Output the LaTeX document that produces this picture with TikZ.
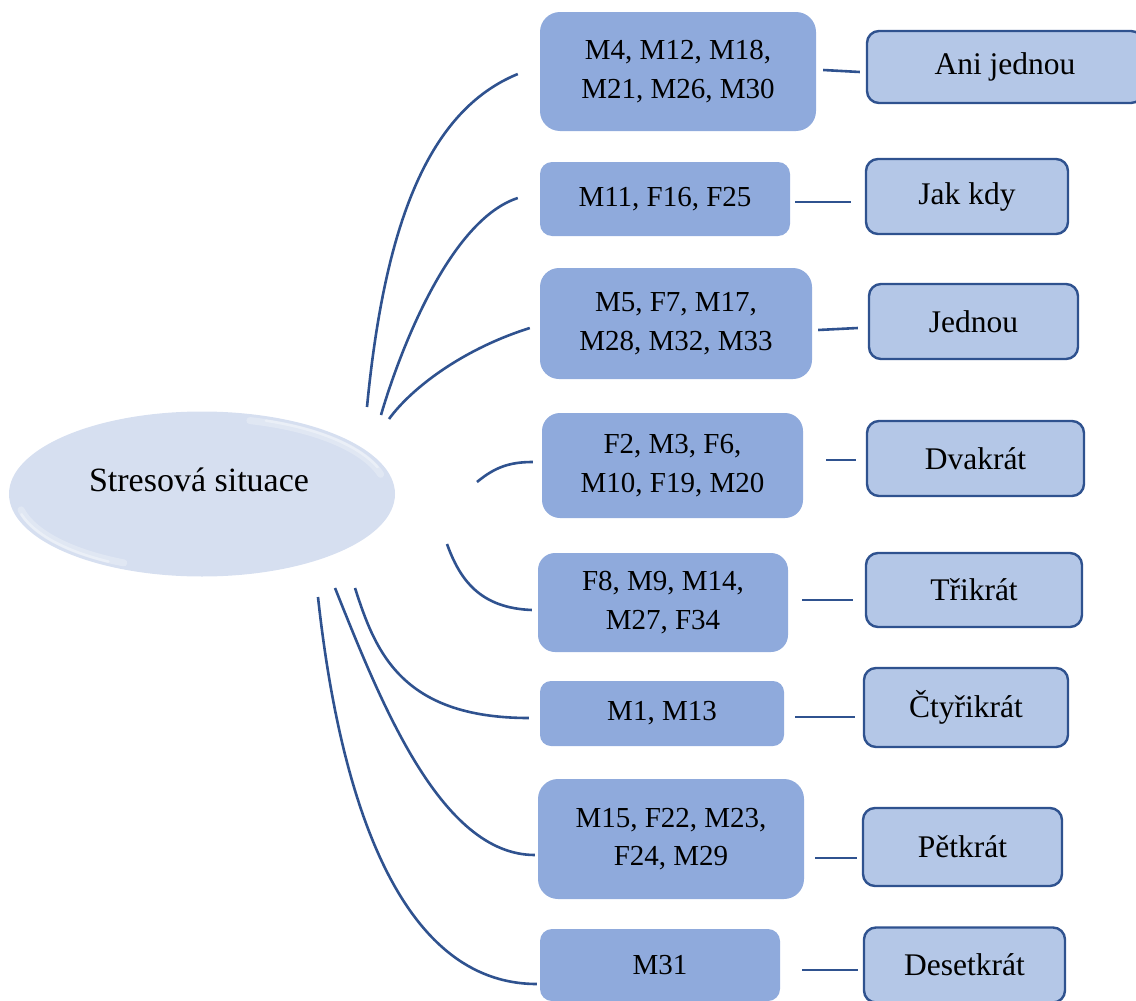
\documentclass[tikz,border=0pt]{standalone}
\usepackage{fontspec}
\setmainfont{Liberation Serif}
\usetikzlibrary{shapes.geometric}
\definecolor{idfill}{HTML}{8FAADC}
\definecolor{catfill}{HTML}{B4C7E7}
\definecolor{edgeblue}{HTML}{2F528F}
\definecolor{rootfill}{HTML}{D6DFF0}
\tikzset{
  rootshape/.style={ellipse, fill=rootfill, inner sep=0pt},
  idbox/.style={rectangle, fill=idfill, inner sep=0pt, align=center,
    font=\fontsize{29}{38.5}\selectfont},
  catbox/.style={rectangle, fill=catfill, draw=edgeblue, line width=2.4pt,
    inner sep=0pt, align=center, font=\fontsize{31.5}{38}\selectfont},
  link/.style={draw=edgeblue, line width=2.6pt},
  glosswide/.style={draw=white, line width=7pt, opacity=0.25, line cap=round},
  glossthin/.style={draw=white, line width=2.5pt, opacity=0.35, line cap=round},
}
\begin{document}
\begin{tikzpicture}[x=1pt,y=-1pt]
\useasboundingbox (0,0) rectangle (1136,1001);
\clip (0,0) rectangle (1136,1001);

% central topic with a soft sheen along its rim (lower left and upper right)
\node[rootshape, minimum width=386, minimum height=165] (root) at (202,494) {};
\draw[glosswide] (root.center) ++(115:185 and 76) arc[start angle=115, end angle=168, x radius=185, y radius=76];
\draw[glossthin] (root.center) ++(120:187 and 78) arc[start angle=120, end angle=165, x radius=187, y radius=78];
\draw[glosswide] (root.center) ++(285:185 and 76) arc[start angle=285, end angle=345, x radius=185, y radius=76];
\draw[glossthin] (root.center) ++(290:187 and 78) arc[start angle=290, end angle=340, x radius=187, y radius=78];
\node[font=\fontsize{34}{40}\selectfont] (rootlabel) at (199,480) {Stresová situace};

% respondent groups
\node[idbox, minimum width=276, minimum height=119, rounded corners=20] (L1) at (678,71.5) {M4, M12, M18,\\M21, M26, M30};
\node[idbox, minimum width=250, minimum height=74, rounded corners=12] (L2) at (665,199) {M11, F16, F25};
\node[idbox, minimum width=272, minimum height=111, rounded corners=19] (L3) at (676,323.5) {M5, F7, M17,\\M28, M32, M33};
\node[idbox, minimum width=261, minimum height=105, rounded corners=18] (L4) at (672.5,465.5) {F2, M3, F6,\\M10, F19, M20};
\node[idbox, minimum width=250, minimum height=99, rounded corners=17] (L5) at (663,602.5) {F8, M9, M14,\\M27, F34};
\node[idbox, minimum width=244, minimum height=65, rounded corners=11] (L6) at (662,713.5) {M1, M13};
\node[idbox, minimum width=266, minimum height=120, rounded corners=20] (L7) at (671,839) {M15, F22, M23,\\F24, M29};
\node[idbox, minimum width=240, minimum height=72, rounded corners=12] (L8) at (660,965) {M31};

% frequency categories
\node[catbox, minimum width=276, minimum height=72, rounded corners=12] (R1) at (1005,67) {Ani jednou};
\node[catbox, minimum width=202, minimum height=75, rounded corners=12] (R2) at (967,196.5) {Jak kdy};
\node[catbox, minimum width=209, minimum height=75, rounded corners=12] (R3) at (973.5,321.5) {Jednou};
\node[catbox, minimum width=217, minimum height=75, rounded corners=12] (R4) at (975.5,458.5) {Dvakrát};
\node[catbox, minimum width=216, minimum height=74, rounded corners=12] (R5) at (974,590) {Třikrát};
\node[catbox, minimum width=204, minimum height=79, rounded corners=12] (R6) at (966,707.5) {Čtyřikrát};
\node[catbox, minimum width=199, minimum height=78, rounded corners=12] (R7) at (962.5,847) {Pětkrát};
\node[catbox, minimum width=201, minimum height=75, rounded corners=12] (R8) at (964.5,965) {Desetkrát};

% curved connectors from the central topic
\draw[link] ([shift={(165,-87)}]root.center) .. controls (385,220) and (430,110) .. ([shift={(-22,2.5)}]L1.west);
\draw[link] ([shift={(179,-79)}]root.center) .. controls (400,350) and (450,220) .. ([shift={(-22,-1)}]L2.west);
\draw[link] ([shift={(187,-75)}]root.center) .. controls (410,390) and (460,350) .. ([shift={(-10,4.5)}]L3.west);
\draw[link] ([shift={(275,-12)}]root.center) .. controls (495,467) and (510,462) .. ([shift={(-9,-3.5)}]L4.west);
\draw[link] ([shift={(245,50)}]root.center) .. controls (460,580) and (480,608) .. ([shift={(-6,7.5)}]L5.west);
\draw[link] ([shift={(153,94)}]root.center) .. controls (375,650) and (400,718) .. ([shift={(-11,4.5)}]L6.west);
\draw[link] ([shift={(133,94)}]root.center) .. controls (380,700) and (440,855) .. ([shift={(-3,16)}]L7.west);
\draw[link] ([shift={(116,103)}]root.center) .. controls (340,800) and (400,984) .. ([shift={(-3,19)}]L8.west);

% straight connectors to the categories
\draw[link] ([shift={(7,-1.5)}]L1.east) -- ([shift={(-6,5)}]R1.west);
\draw[link] ([shift={(5,3)}]L2.east) -- ([shift={(-14,5.5)}]R2.west);
\draw[link] ([shift={(6,6.5)}]L3.east) -- ([shift={(-10,6.5)}]R3.west);
\draw[link] ([shift={(23,-5.5)}]L4.east) -- ([shift={(-10,1.5)}]R4.west);
\draw[link] ([shift={(14,-2.5)}]L5.east) -- ([shift={(-12,10)}]R5.west);
\draw[link] ([shift={(11,3.5)}]L6.east) -- ([shift={(-8,9.5)}]R6.west);
\draw[link] ([shift={(11,19)}]L7.east) -- ([shift={(-5,11)}]R7.west);
\draw[link] ([shift={(22,5)}]L8.east) -- ([shift={(-5,5)}]R8.west);
\end{tikzpicture}
\end{document}
